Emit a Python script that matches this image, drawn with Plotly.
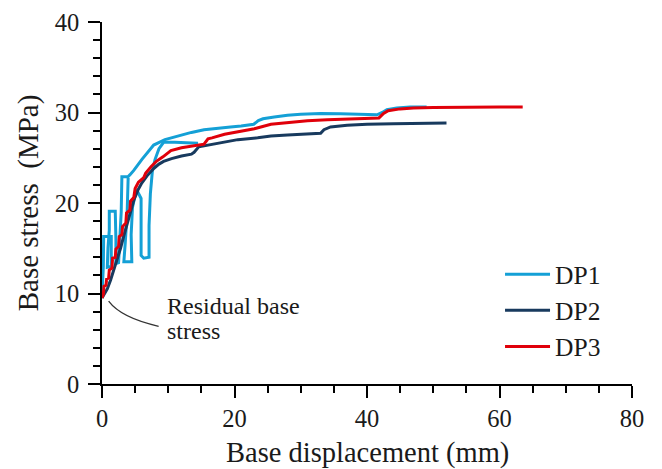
import plotly.graph_objects as go

# ---- data ----
dp1_x = [0, 0.1, 0.2, 0.25, 1.4, 1.4, 0.8, 0.9, 1.1, 1.1, 2.0, 2.1, 2.1, 2.5, 2.7, 2.9, 3.0, 3.9,
         4.2, 4.8, 6.0, 7.8, 9.5, 11.4, 13.5, 15.4, 17.5, 19.4, 21.0, 22.9, 23.6, 24.3, 26.0, 28.0,
         30.0, 33.0, 36.0, 39.0, 41.5, 42.3, 43.0, 44.5, 46.5, 49.0,
         None,
         3.95, 3.8, 3.5, 3.3, 4.5, 4.4, 4.6, 5.2, 5.9, 5.9, 5.9, 6.3, 7.1, 7.1, 7.3, 7.6, 8.0, 8.6,
         9.3, 11.0, 13.0, 14.5]
dp1_y = [9.7, 11.0, 13.0, 16.3, 16.3, 13.0, 12.9, 15.0, 17.0, 19.1, 19.1, 16.0, 13.3, 13.4, 16.0, 19.0, 22.9, 22.9,
         23.1, 23.6, 24.8, 26.4, 27.0, 27.4, 27.8, 28.1, 28.3, 28.4, 28.5, 28.7, 29.1, 29.3, 29.5, 29.7,
         29.8, 29.9, 29.85, 29.8, 29.75, 30.0, 30.3, 30.5, 30.6, 30.6,
         None,
         22.8, 19.0, 15.5, 13.5, 13.5, 16.5, 19.5, 21.5, 20.5, 17.0, 14.2, 13.9, 14.0, 17.5, 21.0, 23.5, 24.8, 26.0,
         26.7, 26.7, 26.6, 26.6]

dp2_x = [0, 0.3, 0.8, 1.3, 1.8, 2.3, 2.8, 3.3, 3.8, 4.3, 4.8, 5.4, 6.0, 6.8, 7.8, 8.6, 9.3, 10.5,
         12.0, 13.5, 13.9, 14.6, 16.0, 17.9, 20.5, 23.5, 25.5, 28.0, 31.0, 33.0, 33.5, 34.5, 37.0,
         40.0, 44.0, 48.0, 52.0]
dp2_y = [9.5, 9.9, 10.5, 11.5, 12.6, 13.8, 15.0, 16.4, 17.8, 19.0, 20.3, 21.4, 22.2, 23.0, 23.8, 24.3, 24.6, 24.9,
         25.2, 25.4, 25.6, 26.2, 26.4, 26.7, 27.0, 27.2, 27.4, 27.5, 27.6, 27.7, 28.1, 28.4, 28.6,
         28.7, 28.75, 28.8, 28.85]

dp3_x = [0, 0.2, 0.3, 0.6, 0.7, 1.0, 1.1, 1.5, 1.6, 2.0, 2.1, 2.5, 2.6, 3.0, 3.1, 3.6, 3.7, 4.2, 4.3,
         4.8, 5.0, 5.5, 6.3, 6.6, 7.4, 8.2, 9.2, 10.4, 12.0, 13.5, 15.4, 16.0, 16.6, 18.5, 20.5, 23.0,
         25.5, 28.0, 31.0, 34.0, 37.0, 40.0, 41.8, 42.5, 43.2, 45.0, 47.0, 50.0, 55.0, 60.0, 63.5]
dp3_y = [9.5, 9.9, 10.8, 10.9, 11.6, 11.7, 12.6, 12.8, 13.9, 14.0, 14.9, 15.2, 16.3, 16.5, 17.4, 17.8, 18.9, 19.2, 20.2,
         20.6, 21.6, 22.3, 22.8, 23.3, 24.0, 24.6, 25.1, 25.8, 26.1, 26.3, 26.5, 27.1, 27.2, 27.6, 27.9, 28.2,
         28.7, 28.9, 29.1, 29.2, 29.3, 29.35, 29.4, 29.9, 30.2, 30.4, 30.5, 30.55, 30.6, 30.6, 30.6]

series_names = ["DP1", "DP2", "DP3"]
series_colors = ["#14A0D6", "#183A5E", "#E0000A"]

x_ticks = [0, 20, 40, 60, 80]
y_ticks = [0, 10, 20, 30, 40]

x_title = "Base displacement (mm)"
y_title = "Base stress  (MPa)"
annot_lines = ["Residual base", "stress"]

FONT = "Liberation Serif"
TXT = "#1a1a1a"

fig = go.Figure()
for name, xs, ys, col in zip(series_names, [dp1_x, dp2_x, dp3_x], [dp1_y, dp2_y, dp3_y], series_colors):
    fig.add_trace(go.Scatter(x=xs, y=ys, mode="lines", name=name,
                             line=dict(color=col, width=3), connectgaps=False))

axis_common = dict(showline=True, linecolor="black", linewidth=1.5, ticks="outside",
                   ticklen=12, tickwidth=1.5, tickcolor="black", showgrid=False, zeroline=False,
                   tickfont=dict(family=FONT, size=24.5, color=TXT), mirror=False, automargin=False)

fig.update_xaxes(range=[0, 80], tickvals=x_ticks, **axis_common,
                 minor=dict(dtick=5, ticklen=7, tickwidth=1.5, tickcolor="black", ticks="outside"))
fig.update_yaxes(range=[0, 40], tickvals=y_ticks, **axis_common, ticklabelstandoff=4,
                 minor=dict(dtick=2, ticklen=7, tickwidth=1.5, tickcolor="black", ticks="outside"))

# axis titles placed as paper-anchored text
fig.add_annotation(x=0.5, y=-0.19, xref="paper", yref="paper", text=x_title, showarrow=False,
                   xanchor="center", yanchor="middle", font=dict(family=FONT, size=28.5, color=TXT))
fig.add_annotation(x=-0.139, y=0.5, xref="paper", yref="paper", text=y_title, showarrow=False,
                   textangle=-90, xanchor="center", yanchor="middle",
                   font=dict(family=FONT, size=29, color=TXT))

fig.add_shape(type="path", path="M 1.0 9.15 Q 2.9 7.3 8.55 6.38", xref="x", yref="y",
              line=dict(color="#333", width=1.3))
for i, line in enumerate(annot_lines):
    fig.add_annotation(x=9.45, y=8.62 - i * 2.77, xref="x", yref="y", text=line, showarrow=False,
                       xanchor="left", yanchor="middle", align="left",
                       font=dict(family=FONT, size=24, color=TXT))

# the page places the figure 8 px from the window's top-left corner
fig.update_layout(
    width=654, height=461,
    margin=dict(l=94, r=30, t=14, b=85),
    paper_bgcolor="white", plot_bgcolor="white",
    legend=dict(x=0.751, y=0.367, xanchor="left", yanchor="top", bgcolor="rgba(0,0,0,0)",
                font=dict(family=FONT, size=25.5, color=TXT), itemwidth=45),
    showlegend=True,
)

fig.write_html("out.html")
